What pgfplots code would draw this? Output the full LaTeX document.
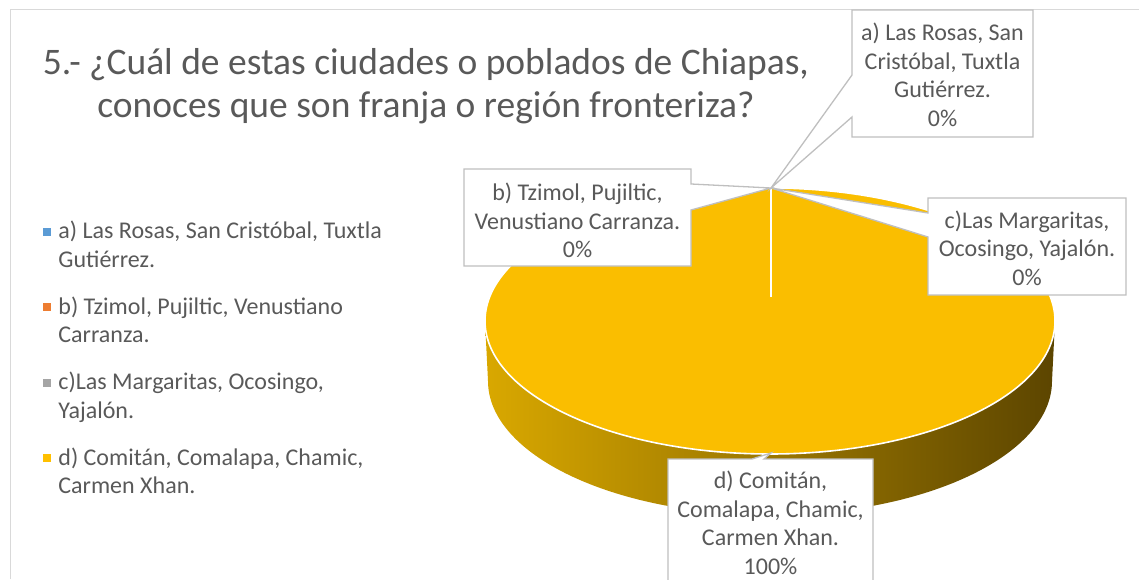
\documentclass[border=0pt]{standalone}
\usepackage{pgfplots}
\pgfplotsset{compat=1.18}
\usepackage{pgfplotstable}
\usepackage{fontspec}
\setmainfont{Carlito}
\definecolor{cA}{HTML}{5B9BD5}
\definecolor{cB}{HTML}{ED7D31}
\definecolor{cC}{HTML}{A5A5A5}
\definecolor{cD}{HTML}{FFC000}
\definecolor{cTop}{HTML}{FABE00}
\definecolor{sideL}{HTML}{D9A800}
\definecolor{sideM}{HTML}{937000}
\definecolor{sideR}{HTML}{5C4500}
\definecolor{txt}{HTML}{595959}
\definecolor{boxc}{HTML}{BFBFBF}
\definecolor{framec}{HTML}{D9D9D9}

\pgfplotstableread{
label value
a 0
b 0
c 0
d 100
}\piedata
\pgfplotstablegetelem{0}{value}\of\piedata \let\va\pgfplotsretval
\pgfplotstablegetelem{1}{value}\of\piedata \let\vb\pgfplotsretval
\pgfplotstablegetelem{2}{value}\of\piedata \let\vc\pgfplotsretval
\pgfplotstablegetelem{3}{value}\of\piedata \let\vd\pgfplotsretval
\pgfmathsetmacro\dstart{90-3.6*(\va+\vb+\vc)}
\pgfmathsetmacro\dend{\dstart-3.6*\vd}

\begin{document}
\begin{tikzpicture}
\begin{axis}[hide axis, scale only axis, width=1139pt, height=579pt,
  xmin=0, xmax=1139, ymin=0, ymax=579, clip=false,
  legend cell align=left,
  legend style={at={(axis cs:40,362)}, anchor=north west, draw=none, fill=none,
    font=\fontsize{24}{28.5}\selectfont, text=txt, row sep=24pt,
    nodes={align=left}},
]
\addlegendimage{legend image code/.code={\fill[cA] (0pt,10pt) rectangle (7pt,17pt);\path[draw=none,fill=none] (0pt,13pt) -- (13pt,13pt);}}
\addlegendentry{a) Las Rosas, San Cristóbal, Tuxtla\\Gutiérrez.}
\addlegendimage{legend image code/.code={\fill[cB] (0pt,10pt) rectangle (7pt,17pt);\path[draw=none,fill=none] (0pt,13pt) -- (13pt,13pt);}}
\addlegendentry{b) Tzimol, Pujiltic, Venustiano\\Carranza.}
\addlegendimage{legend image code/.code={\fill[cC] (0pt,10pt) rectangle (7pt,17pt);\path[draw=none,fill=none] (0pt,13pt) -- (13pt,13pt);}}
\addlegendentry{c)Las Margaritas, Ocosingo,\\Yajalón.}
\addlegendimage{legend image code/.code={\fill[cD] (0pt,10pt) rectangle (7pt,17pt);\path[draw=none,fill=none] (0pt,13pt) -- (13pt,13pt);}}
\addlegendentry{d) Comitán, Comalapa, Chamic,\\Carmen Xhan.}

% frame
\draw[framec, line width=1pt] (axis cs:10,0) -- (axis cs:10,569) -- (axis cs:1145,569);

% title
\node[font=\fontsize{37.5}{43}\selectfont, text=txt, align=center] at (axis cs:426,493)
  {5.- ¿Cuál de estas ciudades o poblados de Chiapas,\\conoces que son franja o región fronteriza?};

% pie side (front half)
\shade[left color=sideL, middle color=sideM, right color=sideR]
  (axis cs:485,258) arc[start angle=180, end angle=360, x radius=285pt, y radius=133pt]
  -- (axis cs:1052,198) arc[start angle=0, end angle=-180, x radius=282pt, y radius=134pt]
  -- cycle;
% pie top face: slice d
\fill[cTop] (axis cs:770,258) -- (axis cs:770,391)
  arc[start angle=\dstart, end angle=\dend, x radius=285pt, y radius=133pt] -- cycle;
\draw[white, line width=1.6pt] (axis cs:770,258) ellipse[x radius=285pt, y radius=133pt];
\draw[white, line width=1.6pt] (axis cs:771,391) -- (axis cs:771,282);

% callouts
\filldraw[fill=white, draw=boxc, line width=1.3pt]
  (axis cs:852,569) -- (axis cs:1033,569) -- (axis cs:1033,442) -- (axis cs:852,442)
  -- (axis cs:852,462) -- (axis cs:771,391) -- (axis cs:852,504) -- cycle;
\filldraw[fill=white, draw=boxc, line width=1.3pt]
  (axis cs:464,410) -- (axis cs:691,410) -- (axis cs:691,395) -- (axis cs:771,391)
  -- (axis cs:691,369) -- (axis cs:691,313) -- (axis cs:464,313) -- cycle;
\filldraw[fill=white, draw=boxc, line width=1.3pt]
  (axis cs:928,381) -- (axis cs:1126,381) -- (axis cs:1126,284) -- (axis cs:928,284)
  -- (axis cs:928,342) -- (axis cs:771,391) -- (axis cs:928,366) -- cycle;
\filldraw[fill=white, draw=boxc, line width=1.3pt]
  (axis cs:668,-25) -- (axis cs:668,120) -- (axis cs:752,120) -- (axis cs:771,126)
  -- (axis cs:764,120) -- (axis cs:873,120) -- (axis cs:873,-25);

\node[font=\fontsize{24}{28.5}\selectfont, text=txt, align=center] at (axis cs:942.5,504)
  {a) Las Rosas, San\\Cristóbal, Tuxtla\\Gutiérrez.\\0\%};
\node[font=\fontsize{24}{28.5}\selectfont, text=txt, align=center] at (axis cs:577.5,358.5)
  {b) Tzimol, Pujiltic,\\Venustiano Carranza.\\0\%};
\node[font=\fontsize{24}{28.5}\selectfont, text=txt, align=center] at (axis cs:1027,331)
  {c)Las Margaritas,\\Ocosingo, Yajalón.\\0\%};
\node[font=\fontsize{24}{28.5}\selectfont, text=txt, align=center] at (axis cs:770.5,56)
  {d) Comitán,\\Comalapa, Chamic,\\Carmen Xhan.\\100\%};
\end{axis}
\pgfresetboundingbox
\path[use as bounding box] (current axis.south west) rectangle (current axis.north east);
\end{tikzpicture}
\end{document}
